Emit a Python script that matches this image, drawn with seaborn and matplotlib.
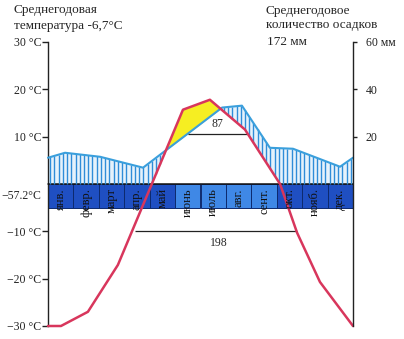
import numpy as np
import matplotlib
matplotlib.use("Agg")
import matplotlib.pyplot as plt
import seaborn as sns

# ---------------- data ----------------
months = ["янв.", "февр.", "март", "апр.", "май", "июнь",
          "июль", "авг.", "сент.", "окт.", "нояб.", "дек."]
month_warm = [False, False, False, False, False, True,
              True, True, True, False, False, False]
# temperature curve: position in months (0..12) and °C
temp_pos = [0, 0.51, 1.57, 2.75, 5.31, 6.37, 7.75, 9.13, 9.80, 10.70, 12]
temp_val = [-30, -30, -27, -17.1, 15.7, 17.8, 11.5, 0, -10.3, -20.7, -30]
# precipitation curve: position in months and mm
prec_pos = [0, 0.67, 2.05, 3.74, 6.85, 7.63, 8.73, 9.64, 11.49, 12]
prec_val = [11.1, 13.2, 11.5, 6.9, 32.3, 33.1, 15.3, 14.9, 7.3, 11.1]

temp_ticks = [30, 20, 10, -10, -20, -30]
prec_ticks = [20, 40, 60]
abs_min = -57.2
mean_temp = -6.7
annual_prec = 172
# periods: (start month-pos, end month-pos, level °C, days)
period_warm = (5.51, 7.83, 10.6, 87)
period_frost = (3.42, 9.80, -10, 198)

# ---------------- style ----------------
sns.set_style("white")
plt.rcParams["font.family"] = ["Liberation Serif", "DejaVu Serif"]
plt.rcParams["axes.unicode_minus"] = True
FS = 8.5
FS_HEAD = 9.5

RED = "#d8365c"
BLUE = "#3a9fdc"
HATCH = "#2f8cd8"
HATCH_BG = "#e6f2fb"
YELLOW = "#f6ee22"
DARK_BAND = "#1f4fc2"
LIGHT_BAND = "#3f88e6"

W, H = 404, 339
fig = plt.figure(figsize=(W / 100, H / 100), dpi=100)
ax = fig.add_axes([48 / W, 13 / H, 305 / W, 284 / H])
ax.set_xlim(0, 12)
ax.set_ylim(-30, 30)

# month band
for i, (m, warm) in enumerate(zip(months, month_warm)):
    ax.bar(i + 0.5, -5, bottom=0, width=1,
           color=LIGHT_BAND if warm else DARK_BAND,
           edgecolor="#0d2a6e", linewidth=0.7, zorder=2)
    ax.text(i + 0.5, -0.9, m, rotation=90, ha="center", va="top",
            fontsize=9, color="#111111", zorder=6)
ax.axhline(0, color="#111111", lw=1.1, zorder=3)

# precipitation in temperature units (10 °C = 20 mm)
prec_t = np.array(prec_val) / 2.0

fine = np.linspace(0, 12, 2401)
red_f = np.interp(fine, temp_pos, temp_val)
blue_f = np.interp(fine, prec_pos, prec_t)
base_f = np.maximum(red_f, 0)
ax.fill_between(fine, base_f, blue_f, where=blue_f > base_f,
                interpolate=True, color=HATCH_BG, lw=0, zorder=2.5)

# hatching where precipitation exceeds temperature
grid = np.arange(1 / 12, 12, 1 / 6)
red_g = np.interp(grid, temp_pos, temp_val)
blue_g = np.interp(grid, prec_pos, prec_t)
base = np.maximum(red_g, 0)
mask = blue_g > base
ax.vlines(grid[mask], base[mask], blue_g[mask], color=HATCH, lw=1.0, zorder=3)

# drought (yellow)
ax.fill_between(fine, blue_f, red_f, where=red_f > blue_f,
                interpolate=True, color=YELLOW, lw=0, zorder=3)

sns.lineplot(x=prec_pos, y=prec_t, color=BLUE, lw=1.5, ax=ax, zorder=4)
sns.lineplot(x=temp_pos, y=temp_val, color=RED, lw=1.8, ax=ax, zorder=5)
for ln in ax.lines:
    ln.set_clip_on(False)

# period annotations
s, e, lvl, d = period_warm
ax.hlines(lvl, s, e, color="#222222", lw=0.9, zorder=4)
ax.annotate(str(d), ((s + e) / 2, lvl), xytext=(0, 3), textcoords="offset points",
            ha="center", va="bottom", fontsize=FS)
s, e, lvl, d = period_frost
ax.hlines(lvl, s, e, color="#222222", lw=0.9, zorder=4)
ax.annotate(str(d), ((s + e) / 2, lvl), xytext=(2, -4), textcoords="offset points",
            ha="center", va="top", fontsize=FS)

# axes
for sp in ["top", "bottom", "right"]:
    ax.spines[sp].set_visible(False)
ax.spines["left"].set_color("#222222")
ax.spines["left"].set_linewidth(1.0)
ax.set_xticks([])
ax.set_yticks(temp_ticks)
ax.set_yticklabels([f"{t:d} °C".replace("-", "\u2212") for t in temp_ticks], fontsize=FS)
ax.tick_params(axis="y", direction="out", length=4, width=1, pad=1, left=True,
               colors="#222222")
ax.text(-0.25, -2.5, f"{abs_min}°C".replace("-", "\u2212"), ha="right", va="center",
        fontsize=FS)

ax2 = ax.twinx()
ax2.set_ylim(-60, 60)
for sp in ["top", "bottom", "left"]:
    ax2.spines[sp].set_visible(False)
ax2.spines["right"].set_color("#222222")
ax2.spines["right"].set_linewidth(1.0)
ax2.set_yticks(prec_ticks)
ax2.set_yticklabels([f"{p}" if p != 60 else f"{p} мм" for p in prec_ticks], fontsize=FS)
ax2.tick_params(axis="y", direction="out", length=3, width=1, pad=6, right=True,
                colors="#222222")

# header texts
fig.text(13 / W, 1 - 10 / H, "Среднегодовая", fontsize=FS_HEAD, va="center", ha="left")
fig.text(14 / W, 1 - 26 / H, f"температура {mean_temp:.1f}°C".replace(".", ","),
         fontsize=FS_HEAD, va="center", ha="left")
fig.text(266 / W, 1 - 11 / H, "Среднегодовое", fontsize=FS_HEAD, va="center", ha="left")
fig.text(266 / W, 1 - 25 / H, "количество осадков", fontsize=FS_HEAD, va="center", ha="left")
fig.text(267 / W, 1 - 42 / H, f"{annual_prec} мм", fontsize=FS_HEAD, va="center", ha="left")

fig.savefig("out.png", dpi=100)
